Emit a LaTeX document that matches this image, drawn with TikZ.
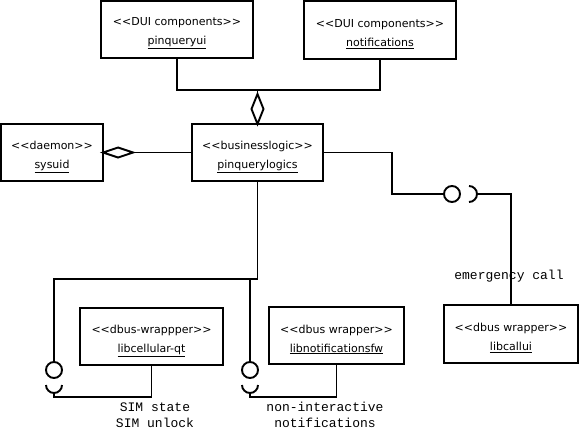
\documentclass[tikz,border=0pt]{standalone}
\usepackage{fontspec}
\usetikzlibrary{calc}
\newfontfamily\boxfont{DejaVu Sans}
\newfontfamily\lblfont{Liberation Mono}
\begin{document}
\begin{tikzpicture}[x=1pt,y=-1pt,line width=1.9pt,
  comp/.style={draw,rectangle,inner sep=0pt,outer sep=0pt},
  txt/.style={align=center,inner sep=0pt,font=\boxfont\fontsize{11}{19}\selectfont},
  ball/.style={draw,circle,minimum size=16pt,inner sep=0pt,outer sep=0pt,fill=white},
  lbl/.style={align=center,inner sep=0pt,font=\lblfont\fontsize{13}{16}\selectfont}]
\useasboundingbox (0,0) rectangle (579,431);
% components
\node[comp,minimum width=152pt,minimum height=57pt] (ui) at (177,29.5) {};
\node[comp,minimum width=152pt,minimum height=58pt] (notif) at (380,30) {};
\node[comp,minimum width=102pt,minimum height=57pt] (sysuid) at (52,152.5) {};
\node[comp,minimum width=131pt,minimum height=57pt] (logic) at (257.5,152.5) {};
\node[comp,minimum width=143pt,minimum height=57pt] (cell) at (151.5,336.5) {};
\node[comp,minimum width=135pt,minimum height=57pt] (nfw) at (336.5,335.5) {};
\node[comp,minimum width=134pt,minimum height=58pt] (callui) at (511,334) {};
\node[txt] (uit) at ($(ui.center)+(0,4)$) {<<DUI components>>\\\underline{pinqueryui}};
\node[txt] (notift) at ($(notif.center)+(0,4)$) {<<DUI components>>\\\underline{notifications}};
\node[txt] (sysuidt) at ($(sysuid.center)+(0,4)$) {<<daemon>>\\\underline{sysuid}};
\node[txt] (logict) at ($(logic.center)+(0,4)$) {<<businesslogic>>\\\underline{pinquerylogics}};
\node[txt] (cellt) at ($(cell.center)+(0,4)$) {<<dbus-wrappper>>\\\underline{libcellular-qt}};
\node[txt] (nfwt) at ($(nfw.center)+(0,4)$) {<<dbus wrapper>>\\\underline{libnotificationsfw}};
\node[txt] (calluit) at ($(callui.center)+(0,4)$) {<<dbus wrapper>>\\\underline{libcallui}};
% aggregation from UI components
\coordinate (j1) at (257.5,90);
\draw (ui.south) |- (j1) -| (notif.south);
\draw (j1) -- ($(logic.north)+(0,-30)$);
\draw[fill=white] (logic.north) -- ++(6,-15) -- ++(-6,-15) -- ++(-6,15) -- cycle;
% aggregation from sysuid
\draw (sysuid.east) -- (logic.west);
\draw[fill=white] (sysuid.east) -- ++(15,-5) -- ++(15,5) -- ++(-15,5) -- cycle;
% emergency call interface
\node[ball] (ball1) at (452,194) {};
\coordinate (k1) at (392,152.5);
\draw (logic.east) -- (k1) |- (ball1.west);
\coordinate (s1) at (477,194);
\draw (s1) ++(-8,-8) arc[start angle=90,end angle=-90,radius=8pt];
\draw (s1) -| (callui.north);
\node[lbl] (lcall) at (509,276) {emergency call};
% SIM interface
\coordinate (c0) at (257.5,279);
\coordinate (c1) at (54,279);
\coordinate (c2) at (250,279);
\node[ball] (ball2) at (54,370) {};
\node[ball] (ball3) at (250,370) {};
\draw (logic.south) -- (c0) -- (c1) -- (ball2.north);
\draw (c2) -- (ball3.north);
\coordinate (t2) at (54,393);
\coordinate (t3) at (250,393);
\draw (t2) ++(-8,-8) arc[start angle=180,end angle=360,radius=8pt];
\draw (t3) ++(-8,-8) arc[start angle=180,end angle=360,radius=8pt];
\coordinate (q2) at (151.5,397);
\coordinate (q3) at (336.5,397);
\draw (t2) |- (q2) -- (cell.south);
\draw (t3) |- (q3) -- (nfw.south);
\node[lbl] (lsim) at (155,415) {SIM state\\SIM unlock};
\node[lbl] (lnot) at (325,415) {non-interactive\\notifications};
\end{tikzpicture}
\end{document}
